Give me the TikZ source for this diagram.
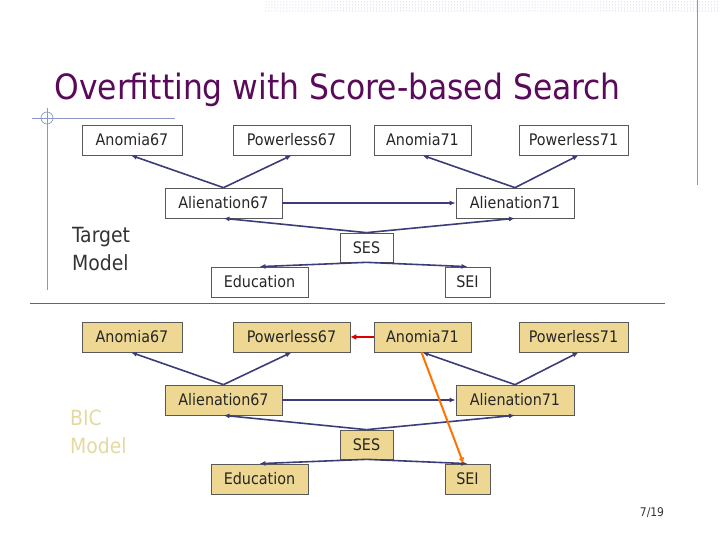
\documentclass[tikz,border=0pt]{standalone}
\usepackage{fontspec}
\setmainfont{DejaVu Sans Condensed}
\usetikzlibrary{arrows.meta,patterns}
\definecolor{ttl}{HTML}{5A0A5A}
\definecolor{edg}{HTML}{3C3C78}
\definecolor{kh}{HTML}{EDD792}
\definecolor{khtxt}{HTML}{E4D9A0}
\definecolor{deco}{HTML}{8A96C8}
\begin{document}
\begin{tikzpicture}[x=1bp,y=-1bp,
 box/.style={draw=black!65,line width=0.7pt,inner sep=0pt,font=\fontsize{16}{18}\selectfont,text=black!85},
 bic/.style={box,fill=kh},
 e/.style={draw=edg,line width=1.6pt,-{Latex[length=6pt,width=5pt]}}]
\useasboundingbox (0,0) rectangle (720,540);
% decoration
\fill[pattern=dots,pattern color=deco!60] (265,0) rectangle (720,13);
\draw[deco,line width=0.7pt] (697,0) -- (697,185);
\draw[deco,line width=0.7pt] (32,118) -- (175,118);
\draw[deco,line width=0.7pt] (47,108) -- (47,290);
\draw[deco,line width=0.7pt] (47,118) circle (6);
\draw[black!60,line width=0.7pt] (30,303) -- (665,303);
\node[anchor=west,text=ttl,font=\fontsize{35}{38}\selectfont] (title) at (51,90) {Overfitting with Score-based Search};
\node[anchor=north west,align=left,text=black!80,font=\fontsize{21}{28}\selectfont,inner sep=0pt] (tm) at (72,227) {Target\\Model};
\node[anchor=north west,align=left,text=khtxt,font=\fontsize{21}{28}\selectfont,inner sep=0pt] (bm) at (70,410) {BIC\\Model};
\node[font=\fontsize{12}{14}\selectfont,text=black!80] (pg) at (652,513) {7/19};
\foreach \p/\dy/\s in {t/0/box,b/197/bic}{
 \node[\s,minimum width=100bp,minimum height=30bp] (\p a67) at (132,140+\dy) {Anomia67};
 \node[\s,minimum width=117bp,minimum height=30bp] (\p p67) at (291.5,140+\dy) {Powerless67};
 \node[\s,minimum width=97bp,minimum height=30bp] (\p a71) at (422.5,140+\dy) {Anomia71};
 \node[\s,minimum width=109bp,minimum height=30bp] (\p p71) at (573.5,140+\dy) {Powerless71};
 \node[\s,minimum width=117bp,minimum height=30bp] (\p l67) at (223.5,203+\dy) {Alienation67};
 \node[\s,minimum width=118bp,minimum height=30bp] (\p l71) at (515,203+\dy) {Alienation71};
 \node[\s,minimum width=53bp,minimum height=29bp] (\p ses) at (366.5,247.5+\dy) {SES};
 \node[\s,minimum width=97bp,minimum height=30bp] (\p edu) at (259.5,282+\dy) {Education};
 \node[\s,minimum width=45bp,minimum height=30bp] (\p sei) at (467.5,282+\dy) {SEI};
 \draw[e] (\p l67.north) -- ([xshift=-1bp]\p a67.south);
 \draw[e] (\p l67.north) -- (\p p67.south);
 \draw[e] (\p l71.north) -- (\p a71.south);
 \draw[e] (\p l71.north) -- ([xshift=5bp]\p p71.south);
 \draw[e] (\p l67.east) -- (\p l71.west);
 \draw[e] (\p ses.north) -- (\p l67.south);
 \draw[e] (\p ses.north) -- (\p l71.south);
 \draw[e] (\p ses.south) -- (\p edu.north);
 \draw[e] (\p ses.south) -- (\p sei.north);
}
\draw[draw=red!85!black,line width=1.8pt,-{Latex[length=6pt,width=6pt]}] (ba71.west) -- (bp67.east);
\draw[draw=orange!90!red,line width=2pt,-{Latex[length=6pt,width=6pt]}] ([xshift=-1bp]ba71.south) -- ([xshift=-4bp]bsei.north);
\end{tikzpicture}
\end{document}
